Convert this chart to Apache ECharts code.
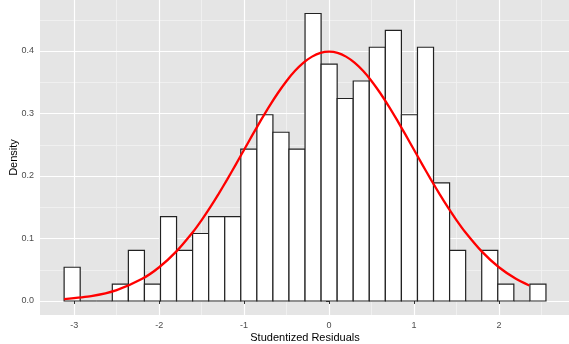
<!DOCTYPE html>
<html>
<head>
<meta charset="utf-8">
<script src="https://cdn.jsdelivr.net/npm/echarts@6/dist/echarts.min.js"></script>
<style>
  html, body { margin: 0; padding: 0; background: #fff; }
  #chart { width: 569px; height: 344px; }
</style>
</head>
<body>
<div id="chart"></div>
<script>
// histogram: 30 bins, density per bin
const binLeft = -3.119;
const binWidth = 0.1891;
const densities = [
  0.054, 0, 0, 0.027, 0.081, 0.027, 0.135, 0.081, 0.108, 0.135,
  0.135, 0.243, 0.298, 0.270, 0.243, 0.460, 0.379, 0.324, 0.352, 0.406,
  0.433, 0.298, 0.406, 0.189, 0.081, 0, 0.081, 0.027, 0, 0.027
];

// normal density curve
const curveX = [-3.119, -2.8, -2.5, -2.2, -2.0, -1.8, -1.6, -1.5, -1.4, -1.3, -1.2, -1.1, -1.0, -0.9, -0.8,
  -0.7, -0.6, -0.5, -0.4, -0.3, -0.2, -0.1, 0, 0.1, 0.2, 0.3, 0.4, 0.5, 0.6, 0.7, 0.8, 0.9, 1.0,
  1.1, 1.2, 1.3, 1.4, 1.5, 1.6, 1.8, 2.0, 2.2, 2.358];
const curveY = [0.0031, 0.0079, 0.0175, 0.0355, 0.054, 0.079, 0.1109, 0.1295, 0.1497, 0.1714, 0.1942, 0.2179, 0.242, 0.2661, 0.2897,
  0.3123, 0.3332, 0.3521, 0.3683, 0.3814, 0.391, 0.397, 0.3989, 0.397, 0.391, 0.3814, 0.3683, 0.3521, 0.3332, 0.3123, 0.2897, 0.2661, 0.242,
  0.2179, 0.1942, 0.1714, 0.1497, 0.1295, 0.1109, 0.079, 0.054, 0.0355, 0.0248];

const xTicks = [-3, -2, -1, 0, 1, 2];
const xMinor = [-2.5, -1.5, -0.5, 0.5, 1.5, 2.5];
const yTicks = [0, 0.1, 0.2, 0.3, 0.4];
const yMinor = [0.05, 0.15, 0.25, 0.35, 0.45];

const xMin = -3.403, xMax = 2.837;
const yMin = -0.0224, yMax = 0.4816;

const font = 'Liberation Sans, Arial, sans-serif';

const chart = echarts.init(document.getElementById('chart'));

const bins = densities.map((d, i) => [binLeft + i * binWidth, binLeft + (i + 1) * binWidth, d]);
const curve = curveX.map((x, i) => [x, curveY[i]]);

const option = {
  backgroundColor: '#fff',
  animation: false,
  grid: {
    left: 40, top: 0, width: 530, height: 315,
    containLabel: false, outerBoundsMode: 'none',
    show: true, backgroundColor: '#E5E5E5', borderWidth: 0
  },
  xAxis: [
    {
      type: 'value', min: xMin, max: xMax,
      name: 'Studentized Residuals', nameLocation: 'middle', nameGap: 17, nameMoveOverlap: false,
      nameTextStyle: { color: '#000', fontSize: 11, fontFamily: font },
      axisLine: { show: false },
      axisTick: { show: true, length: 3, customValues: xTicks, lineStyle: { color: '#333', width: 1 } },
      axisLabel: { customValues: xTicks, color: '#4D4D4D', fontSize: 9, fontFamily: font, margin: 6 },
      splitLine: { show: true, lineStyle: { color: '#fff', width: 1.2 } },
      z: 1
    },
    {
      type: 'value', min: xMin, max: xMax, position: 'bottom',
      axisLine: { show: false },
      axisTick: { show: false, customValues: xMinor },
      axisLabel: { show: false, customValues: xMinor },
      splitLine: { show: true, lineStyle: { color: '#F2F2F2', width: 0.8 } },
      z: 0
    }
  ],
  yAxis: [
    {
      type: 'value', min: yMin, max: yMax,
      name: 'Density', nameLocation: 'middle', nameGap: 21, nameRotate: 90, nameMoveOverlap: false,
      nameTextStyle: { color: '#000', fontSize: 11, fontFamily: font },
      axisLine: { show: false },
      axisTick: { show: true, length: 3, customValues: yTicks, lineStyle: { color: '#333', width: 1 } },
      axisLabel: {
        customValues: yTicks, color: '#4D4D4D', fontSize: 9, fontFamily: font, margin: 6,
        formatter: v => v.toFixed(1)
      },
      splitLine: { show: true, lineStyle: { color: '#fff', width: 1.2 } },
      z: 1
    },
    {
      type: 'value', min: yMin, max: yMax, position: 'left',
      axisLine: { show: false },
      axisTick: { show: false, customValues: yMinor },
      axisLabel: { show: false, customValues: yMinor },
      splitLine: { show: true, lineStyle: { color: '#F2F2F2', width: 0.8 } },
      z: 0
    }
  ],
  series: [
    {
      type: 'custom',
      xAxisIndex: 0, yAxisIndex: 0,
      data: bins,
      renderItem: function (params, api) {
        const p0 = api.coord([api.value(0), api.value(2)]);
        const p1 = api.coord([api.value(1), 0]);
        return {
          type: 'rect',
          shape: { x: p0[0], y: p0[1], width: p1[0] - p0[0], height: p1[1] - p0[1] },
          style: { fill: '#fff', stroke: '#222', lineWidth: 1.2 }
        };
      },
      z: 2
    },
    {
      type: 'line',
      xAxisIndex: 0, yAxisIndex: 0,
      data: curve,
      smooth: 0.2,
      showSymbol: false,
      lineStyle: { color: '#FF0000', width: 2.3 },
      z: 3
    }
  ]
};

chart.setOption(option);
</script>
</body>
</html>
